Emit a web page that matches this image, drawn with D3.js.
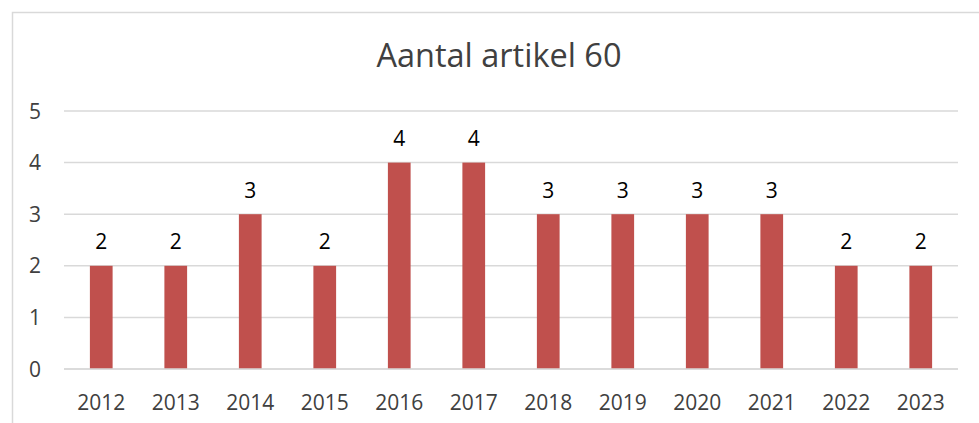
<!DOCTYPE html>
<html>
<head>
<meta charset="utf-8">
<script src="https://cdn.jsdelivr.net/npm/d3@7"></script>
<style>
  body { margin: 0; background: #fff; }
  svg { display: block; font-family: "Open Sans", sans-serif; }
</style>
</head>
<body>
<div id="chart"></div>
<script>
// Aantal artikel 60 per jaar
const years = ["2012", "2013", "2014", "2015", "2016", "2017", "2018", "2019", "2020", "2021", "2022", "2023"];
const counts = [2, 2, 3, 2, 4, 4, 3, 3, 3, 3, 2, 2];
const yTicks = [0, 1, 2, 3, 4, 5];
const title = "Aantal artikel 60";

const width = 979;
const height = 423;
const plot = { left: 64, right: 958, top: 111, bottom: 369 };

const svg = d3.select("#chart")
  .append("svg")
  .attr("width", width)
  .attr("height", height);

// chart border (only left/top visible in the crop)
svg.append("rect")
  .attr("x", 12.5)
  .attr("y", 12.5)
  .attr("width", 1000)
  .attr("height", 500)
  .attr("fill", "none")
  .attr("stroke", "#d9d9d9")
  .attr("stroke-width", 1.5);

svg.append("text")
  .attr("x", 499)
  .attr("y", 67)
  .attr("text-anchor", "middle")
  .attr("font-size", 32.5)
  .attr("fill", "#404040")
  .text(title);

const x = d3.scaleBand()
  .domain(years)
  .range([plot.left, plot.right])
  .padding(0);

const y = d3.scaleLinear()
  .domain([0, 5])
  .range([plot.bottom, plot.top]);

// gridlines
svg.append("g")
  .selectAll("line")
  .data(yTicks)
  .join("line")
  .attr("x1", plot.left)
  .attr("x2", plot.right)
  .attr("y1", function(d) { return y(d); })
  .attr("y2", function(d) { return y(d); })
  .attr("stroke", "#d9d9d9")
  .attr("stroke-width", 1.5);

// y labels
svg.append("g")
  .selectAll("text")
  .data(yTicks)
  .join("text")
  .attr("x", 41)
  .attr("y", function(d) { return y(d); })
  .attr("dy", "0.36em")
  .attr("text-anchor", "end")
  .attr("font-size", 21)
  .attr("fill", "#404040")
  .text(function(d) { return d; });

const barWidth = x.bandwidth() * 0.305;

svg.append("g")
  .selectAll("rect")
  .data(counts)
  .join("rect")
  .attr("x", function(d, i) { return x(years[i]) + (x.bandwidth() - barWidth) / 2; })
  .attr("y", function(d) { return y(d); })
  .attr("width", barWidth)
  .attr("height", function(d) { return y(0) - y(d); })
  .attr("fill", "#C0504D");

// redraw baseline on top of bars
svg.append("line")
  .attr("x1", plot.left)
  .attr("x2", plot.right)
  .attr("y1", y(0))
  .attr("y2", y(0))
  .attr("stroke", "#d9d9d9")
  .attr("stroke-width", 1.5);

// data labels
svg.append("g")
  .selectAll("text")
  .data(counts)
  .join("text")
  .attr("x", function(d, i) { return x(years[i]) + x.bandwidth() / 2; })
  .attr("y", function(d) { return y(d) - 16.5; })
  .attr("text-anchor", "middle")
  .attr("font-size", 21)
  .attr("fill", "#000")
  .text(function(d) { return d; });

// x labels
svg.append("g")
  .selectAll("text")
  .data(years)
  .join("text")
  .attr("x", function(d) { return x(d) + x.bandwidth() / 2; })
  .attr("y", 410)
  .attr("text-anchor", "middle")
  .attr("font-size", 21)
  .attr("fill", "#404040")
  .text(function(d) { return d; });
</script>
</body>
</html>
